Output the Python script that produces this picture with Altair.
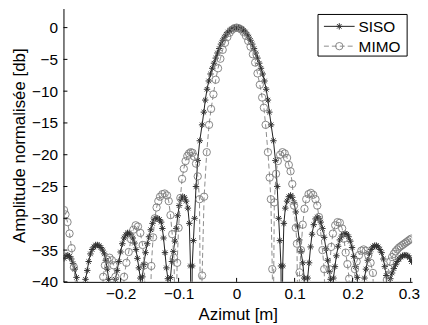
import altair as alt
import pandas as pd

# ---------------- data ----------------
SISO_X = [-0.2975, -0.294, -0.291, -0.288, -0.285, -0.282, -0.279, -0.276, -0.2735, -0.267,
          -0.2605, -0.2575, -0.255, -0.252, -0.249, -0.246, -0.243, -0.240, -0.237, -0.234,
          -0.231, -0.228, -0.2255, -0.223, -0.2205, -0.215,
          -0.209, -0.206, -0.203, -0.200, -0.197, -0.194, -0.191, -0.188, -0.185, -0.182,
          -0.179, -0.176, -0.1735, -0.171, -0.1685, -0.166, -0.1645,
          -0.1625, -0.160, -0.157, -0.154, -0.151, -0.148, -0.145, -0.142, -0.139, -0.136,
          -0.133, -0.130, -0.128, -0.126, -0.1235, -0.121, -0.1185, -0.1165,
          -0.114, -0.1115, -0.109, -0.1065, -0.104, -0.1015, -0.099, -0.096, -0.093, -0.090,
          -0.087, -0.084, -0.0815, -0.0795, -0.078,
          -0.0765, -0.0745, -0.0725, -0.070, -0.067, -0.0635, -0.0595, -0.0565, -0.054, -0.051,
          -0.048, -0.045, -0.042, -0.039, -0.036, -0.033, -0.030, -0.027, -0.024, -0.021,
          -0.018, -0.015, -0.012, -0.009, -0.006, -0.003, 0.0,
          0.003, 0.006, 0.009, 0.012, 0.015, 0.018, 0.021, 0.024, 0.027, 0.030,
          0.033, 0.036, 0.039, 0.042, 0.045, 0.048, 0.051, 0.054, 0.0565, 0.0595,
          0.0635, 0.067, 0.070, 0.0725, 0.0745, 0.0765, 0.078,
          0.0795, 0.0815, 0.084, 0.087, 0.090, 0.093, 0.096, 0.099, 0.102, 0.105,
          0.108, 0.111, 0.114, 0.1165, 0.1195,
          0.1225, 0.125, 0.1275, 0.130, 0.133, 0.136, 0.139, 0.142, 0.145, 0.148,
          0.151, 0.154, 0.157, 0.160, 0.162, 0.1645,
          0.167, 0.1695, 0.172, 0.175, 0.178, 0.181, 0.184, 0.187, 0.190, 0.193,
          0.196, 0.199, 0.202, 0.205, 0.208, 0.2145,
          0.2205, 0.223, 0.226, 0.229, 0.232, 0.235, 0.238, 0.241, 0.244, 0.247,
          0.250, 0.253, 0.2555, 0.258, 0.262,
          0.265, 0.268, 0.271, 0.274, 0.277, 0.280, 0.283, 0.286, 0.289, 0.292,
          0.295, 0.298, 0.3015]
SISO_Y = [-36.3, -35.9, -35.8, -36.0, -36.4, -37.1, -38.0, -39.3, -41.0, -55,
          -39.6, -38.2, -36.8, -35.6, -34.9, -34.5, -34.2, -34.2, -34.3, -34.6,
          -35.0, -35.6, -36.6, -38.0, -39.6, -55,
          -39.6, -38.2, -36.8, -35.3, -34.0, -33.1, -32.6, -32.3, -32.3, -32.6,
          -33.1, -33.9, -34.9, -36.3, -37.8, -39.4, -55,
          -39.2, -37.3, -35.4, -34.0, -32.9, -31.8, -30.8, -30.2, -30.0, -30.0,
          -30.2, -30.6, -31.6, -33.1, -35.4, -37.8, -39.5, -55,
          -39.3, -36.8, -35.2, -33.6, -31.6, -29.6, -28.0, -27.0, -26.6, -26.7,
          -27.3, -28.4, -30.8, -37.5, -55,
          -37.5, -33.5, -30.0, -25.0, -20.9, -17.8, -15.3, -13.3, -11.4, -9.7,
          -8.4, -7.3, -6.4, -5.6, -4.8, -4.0, -3.3, -2.6, -2.0, -1.5,
          -1.05, -0.7, -0.45, -0.25, -0.1, -0.02, 0.0,
          -0.02, -0.1, -0.25, -0.45, -0.7, -1.05, -1.5, -2.0, -2.6, -3.3,
          -4.0, -4.8, -5.6, -6.4, -7.3, -8.4, -9.7, -11.4, -13.3, -15.3,
          -17.8, -20.9, -25.0, -30.0, -33.5, -37.5, -55,
          -37.5, -30.8, -28.4, -27.3, -26.6, -26.4, -26.7, -27.5, -29.0, -31.2,
          -33.4, -35.2, -37.0, -39.4, -55,
          -39.4, -37.0, -34.5, -32.5, -31.0, -30.1, -29.8, -30.0, -30.6, -31.6,
          -33.0, -34.8, -36.6, -38.4, -39.6, -55,
          -39.4, -37.6, -35.9, -34.4, -33.4, -32.8, -32.5, -32.4, -32.5, -32.9,
          -33.6, -34.6, -36.0, -37.6, -39.3, -55,
          -39.4, -38.0, -36.6, -35.5, -34.9, -34.5, -34.3, -34.3, -34.5, -34.9,
          -35.4, -36.4, -37.6, -39.0, -55,
          -39.5, -38.6, -37.9, -37.3, -36.8, -36.4, -36.1, -35.9, -35.8, -35.8,
          -35.9, -36.2, -36.8]

MIMO_X = [-0.2975, -0.2950, -0.2915, -0.2880, -0.2845, -0.2805, -0.2770, -0.2700, -0.2500, -0.2330,
          -0.2300, -0.2270, -0.2230, -0.2190, -0.2150, -0.2120, -0.2090, -0.2060, -0.1970,
          -0.1940, -0.1900, -0.1860, -0.1820, -0.1780, -0.1740, -0.1700, -0.1660, -0.1620, -0.1590,
          -0.1560, -0.1500,
          -0.1470, -0.1440, -0.1410, -0.1380, -0.1350, -0.1320, -0.1280, -0.1240, -0.1200, -0.1170,
          -0.1140, -0.1110, -0.1080, -0.1050,
          -0.1025, -0.1000, -0.0970, -0.0940, -0.0910, -0.0880, -0.0850, -0.0820, -0.0790, -0.0760,
          -0.0730, -0.0700, -0.0670, -0.0640, -0.0620,
          -0.0595, -0.0560, -0.0515, -0.0475, -0.0440, -0.0400, -0.0360, -0.0320, -0.0280, -0.0240,
          -0.0200, -0.0160, -0.0120, -0.0080, -0.0040, 0.0,
          0.0040, 0.0080, 0.0120, 0.0160, 0.0200, 0.0240, 0.0280, 0.0320, 0.0360, 0.0400,
          0.0440, 0.0470, 0.0500, 0.0540, 0.0570, 0.0590, 0.0615, 0.0630,
          0.0650, 0.0680, 0.0710, 0.0750, 0.0790, 0.0830, 0.0870, 0.0900, 0.0930, 0.0960,
          0.0990, 0.1020, 0.1040, 0.1060,
          0.1085, 0.1110, 0.1140, 0.1170, 0.1200, 0.1240, 0.1280, 0.1320, 0.1360, 0.1390,
          0.1420, 0.1450, 0.1480, 0.1510, 0.1540, 0.1570,
          0.1600, 0.1630, 0.1660, 0.1700, 0.1740, 0.1780, 0.1820, 0.1850, 0.1880, 0.1910,
          0.1940, 0.1970, 0.2010,
          0.2040, 0.2070, 0.2110, 0.2150, 0.2190, 0.2230, 0.2270, 0.2310, 0.2350, 0.2380,
          0.2480, 0.2570,
          0.2590, 0.2620, 0.2650, 0.2680, 0.2710, 0.2740, 0.2770, 0.2800, 0.2830, 0.2860,
          0.2890, 0.2920, 0.2950, 0.2980, 0.3010]
MIMO_Y = [-28.7, -29.4, -30.6, -32.4, -34.7, -37.7, -41.0, -50, -46, -50,
          -39.2, -37.4, -36.5, -36.2, -36.6, -37.4, -39.2, -50, -50,
          -39.2, -37.0, -35.3, -33.3, -31.8, -31.1, -31.3, -32.3, -34.2, -37.4,
          -50, -50,
          -37.5, -33.0, -30.0, -28.3, -27.3, -26.6, -26.2, -26.1, -26.4, -27.3,
          -29.5, -32.5, -36.2, -50,
          -37.0, -31.5, -26.8, -23.8, -22.2, -21.0, -20.2, -19.8, -19.6, -19.7,
          -20.3, -21.4, -23.4, -27.0, -50,
          -39.0, -26.6, -19.6, -15.3, -12.8, -10.5, -8.2, -6.4, -4.9, -3.5,
          -2.4, -1.5, -0.8, -0.35, -0.1, 0.0,
          -0.1, -0.3, -0.7, -1.3, -2.1, -3.0, -4.2, -5.5, -7.2, -9.0,
          -11.0, -12.6, -15.3, -19.6, -23.6, -27.0, -38.0, -50,
          -27.5, -23.0, -21.0, -20.0, -19.6, -19.8, -20.5, -21.6, -22.6, -24.6,
          -28.0, -31.5, -34.0, -50,
          -38.5, -35.0, -31.0, -28.5, -27.0, -26.2, -26.0, -26.3, -27.0, -28.0,
          -29.8, -32.2, -35.0, -38.0, -50, -50,
          -38.0, -34.5, -32.4, -31.1, -30.6, -30.7, -31.6, -33.2, -35.4, -37.2,
          -39.5, -50, -50,
          -38.0, -36.8, -35.8, -35.1, -34.9, -35.1, -35.8, -37.0, -38.6, -50,
          -46, -50,
          -39.7, -37.9, -36.8, -36.1, -35.6, -35.2, -34.9, -34.6, -34.4, -34.2,
          -34.0, -33.8, -33.6, -33.4, -33.2]

X_TICKS = [-0.2, -0.1, 0, 0.1, 0.2, 0.3]
Y_TICKS = [0, -5, -10, -15, -20, -25, -30, -35, -40]
LEGEND_LABELS = ["SISO", "MIMO"]
X_TITLE = "Azimut [m]"
Y_TITLE = "Amplitude normalisée [db]"

# ---------------- chart ----------------
W, H = 352, 276
FONT = "Liberation Sans"
ASTER = "M-1,0L1,0M0,-1L0,1M-0.7,-0.7L0.7,0.7M-0.7,0.7L0.7,-0.7"

siso = pd.DataFrame({"x": SISO_X, "y": SISO_Y})
mimo = pd.DataFrame({"x": MIMO_X, "y": MIMO_Y})
one = pd.DataFrame({"a": [0]})

xs = alt.Scale(domain=[-0.2985, 0.3025], nice=False, zero=False)
ys = alt.Scale(domain=[-40, 3], nice=False, zero=False)
xax = alt.Axis(values=X_TICKS, format="~g", title=X_TITLE, grid=False, ticks=False,
               labelPadding=5, titlePadding=4, domainColor="black", domainWidth=1,
               labelFlush=4, labelFlushOffset=9)
yax = alt.Axis(values=Y_TICKS, format="d", title=Y_TITLE, grid=False, ticks=False,
               labelPadding=6, titlePadding=3, domainColor="black", domainWidth=1)


def X(f):
    return alt.X(f, scale=xs, axis=xax)


def Y(f):
    return alt.Y(f, scale=ys, axis=yax)


siso_line = alt.Chart(siso).mark_line(color="#1e1e1e", strokeWidth=1, clip=True).encode(
    x=X("x:Q"), y=Y("y:Q"))
siso_pts = alt.Chart(siso).mark_point(shape=ASTER, size=42, filled=False, stroke="#333333",
                                      strokeWidth=1, opacity=1, clip=True).encode(
    x=X("x:Q"), y=Y("y:Q"))
mimo_line = alt.Chart(mimo).mark_line(color="#8c8c8c", strokeWidth=1, strokeDash=[5, 3],
                                      clip=True).encode(x=X("x:Q"), y=Y("y:Q"))
mimo_pts = alt.Chart(mimo).mark_point(shape="circle", size=55, filled=False, stroke="#7a7a7a",
                                      strokeWidth=0.9, opacity=1, clip=True).encode(
    x=X("x:Q"), y=Y("y:Q"))

ytick = alt.Chart(pd.DataFrame({"t": Y_TICKS})).mark_rule(color="black", strokeWidth=1).encode(
    y=Y("t:Q"), x=alt.value(0), x2=alt.value(4))
xtick = alt.Chart(pd.DataFrame({"t": X_TICKS})).mark_rule(color="black", strokeWidth=1).encode(
    x=X("t:Q"), y=alt.value(H), y2=alt.value(H - 4))

# legend (drawn by hand, MATLAB style)
lx0, lx1, ly0, ly1 = 257, 347, 6, 48
box = alt.Chart(one).mark_rect(fill="white", stroke="black", strokeWidth=1).encode(
    x=alt.value(lx0), x2=alt.value(lx1), y=alt.value(ly0), y2=alt.value(ly1))
l1 = alt.Chart(one).mark_rule(color="#1e1e1e", strokeWidth=1).encode(
    x=alt.value(263), x2=alt.value(294), y=alt.value(18))
p1 = alt.Chart(one).mark_point(shape=ASTER, size=42, filled=False, stroke="#333333",
                               strokeWidth=1, opacity=1).encode(x=alt.value(278.5), y=alt.value(18))
t1 = alt.Chart(one).mark_text(align="left", baseline="middle", font=FONT, fontSize=15.5,
                              color="black").encode(x=alt.value(298), y=alt.value(18.5),
                                                    text=alt.value(LEGEND_LABELS[0]))
l2 = alt.Chart(one).mark_rule(color="#8c8c8c", strokeWidth=1, strokeDash=[5, 3]).encode(
    x=alt.value(263), x2=alt.value(294), y=alt.value(38))
p2 = alt.Chart(one).mark_point(shape="circle", size=55, filled=False, stroke="#7a7a7a",
                               strokeWidth=0.9, opacity=1).encode(x=alt.value(278.5), y=alt.value(38))
t2 = alt.Chart(one).mark_text(align="left", baseline="middle", font=FONT, fontSize=15.5,
                              color="black").encode(x=alt.value(298), y=alt.value(38.5),
                                                    text=alt.value(LEGEND_LABELS[1]))

chart = alt.layer(siso_line, siso_pts, mimo_line, mimo_pts, ytick, xtick,
                  box, l1, p1, t1, l2, p2, t2).properties(
    width=W, height=H,
    padding={"left": 56, "top": -1, "right": 8, "bottom": 40},
    autosize=alt.AutoSizeParams(type="none"),
    background="white",
).configure_view(stroke=None).configure_axis(
    labelFont=FONT, labelFontSize=15.5, labelColor="black",
    titleFont=FONT, titleFontSize=17, titleColor="black", titleFontWeight="normal",
)

chart.save("out.html", embed_options={"renderer": "svg", "actions": False})
